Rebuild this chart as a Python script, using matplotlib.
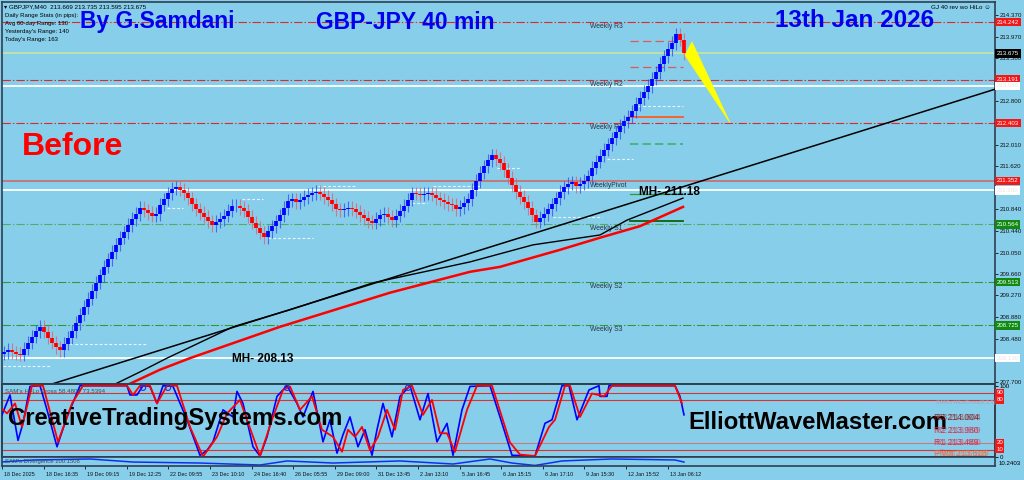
import numpy as np
import matplotlib
matplotlib.use('Agg')
import matplotlib.pyplot as plt
import matplotlib.transforms as mtransforms
from matplotlib.patches import Polygon

plt.rcParams['font.family'] = ['Liberation Sans', 'DejaVu Sans']
plt.rcParams['lines.scale_dashes'] = False

W, H = 1024, 480
BG = '#87CEEB'
FRAME = '#2F3F4F'

# ---- price bars (40 min, close of each bar) ----
closes = [
    208.24, 208.28, 208.24, 208.21, 208.19, 208.30, 208.41, 208.52, 208.62, 208.70,
    208.61, 208.50, 208.41, 208.33, 208.28, 208.39, 208.50, 208.62, 208.77, 208.92,
    209.06, 209.21, 209.35, 209.50, 209.64, 209.79, 209.93, 210.06, 210.19, 210.32,
    210.42, 210.55, 210.66, 210.75, 210.86, 210.82, 210.77, 210.72, 210.75, 210.92,
    211.02, 211.13, 211.21, 211.24, 211.19, 211.13, 211.04, 210.93, 210.84, 210.77,
    210.70, 210.62, 210.55, 210.61, 210.66, 210.72, 210.81, 210.90, 210.90, 210.86,
    210.81, 210.70, 210.59, 210.50, 210.41, 210.33, 210.44, 210.53, 210.62, 210.73,
    210.86, 210.99, 211.02, 210.97, 211.01, 211.06, 211.10, 211.13, 211.15, 211.12,
    211.06, 211.01, 210.93, 210.84, 210.82, 210.84, 210.86, 210.84, 210.79, 210.73,
    210.68, 210.62, 210.59, 210.66, 210.73, 210.75, 210.70, 210.64, 210.72, 210.81,
    210.90, 211.01, 211.13, 211.12, 211.10, 211.12, 211.13, 211.10, 211.04, 211.01,
    210.97, 210.93, 210.92, 210.84, 210.88, 210.95, 211.02, 211.19, 211.35, 211.50,
    211.62, 211.73, 211.82, 211.75, 211.68, 211.55, 211.41, 211.28, 211.15, 211.06,
    210.97, 210.86, 210.73, 210.61, 210.68, 210.75, 210.84, 210.93, 211.04, 211.15,
    211.24, 211.30, 211.33, 211.26, 211.30, 211.35, 211.44, 211.59, 211.70, 211.81,
    211.92, 212.02, 212.13, 212.24, 212.35, 212.44, 212.52, 212.62, 212.75, 212.86,
    212.97, 213.08, 213.21, 213.33, 213.48, 213.62, 213.75, 213.86, 214.02, 213.92,
    213.675,
]
WICK = 0.12

# moving averages (bar position, price)
ma_red_bar = [27.75, 30.75, 39, 46.5, 69, 96.5, 116.5, 124, 139, 149, 159, 169.75]
ma_red_val = [207.55, 207.64, 207.92, 208.13, 208.70, 209.32, 209.70, 209.79, 210.10, 210.32, 210.53, 210.88]
ma_blk_bar = [25.25, 27.25, 34, 40.75, 57.25, 71.5, 92.25, 116.5, 132.25, 149, 155.75, 169.75]
ma_blk_val = [207.55, 207.64, 207.88, 208.13, 208.70, 209.01, 209.50, 209.88, 210.19, 210.37, 210.64, 211.04]
trend_bar = [12, 247.75]
trend_val = [207.66, 213.02]

# weekly pivot levels
weekly_names = ['Weekly R3', 'Weekly R2', 'Weekly R1', 'WeeklyPivot', 'Weekly S1', 'Weekly S2', 'Weekly S3']
weekly_vals = [214.242, 213.191, 212.403, 211.352, 210.564, 209.513, 208.725]
mh_vals = [213.080, 211.180, 208.130]
current_price = 213.675

# previous day high/low dotted segments (bar from, bar to, price)
day_seg_from = [-0.25, 16.5, 40.75, 59.5, 66, 78.5, 100.75, 107.25, 123.25, 137.25, 150.75, 158.5]
day_seg_to = [11.5, 35.75, 44.75, 64.75, 77.25, 87.75, 105.75, 119.5, 129, 149.5, 157.25, 169.75]
day_seg_val = [207.99, 208.39, 210.86, 211.02, 210.32, 211.26, 210.95, 211.26, 211.59, 210.70, 211.75, 212.72]

# daily pivot segments near the last bar
daily_vals = [213.90, 213.42, 212.52, 212.02, 211.11, 210.62]

# yellow projection triangle (bar, price)
tri_bar = [170.25, 172, 181.5]
tri_val = [213.64, 213.88, 212.41]

# SAM's Hi-Lo Cross oscillator
sto_blue_bar = [-1, 1.5, 3.5, 4.75, 6.5, 9, 10.75, 13.25, 15.75, 19, 30.75, 31.5, 33.25, 34.75,
                36.5, 38.25, 39.75, 42.25, 45.75, 49, 50.75, 52.25, 54.75, 57.25, 58.25, 59.75,
                62.25, 64, 65.75, 68.25, 70.75, 73.25, 74.75, 77.25, 79.75, 81.5, 83.25, 84.75,
                86.5, 88.5, 90.25, 92, 93.25, 94.75, 97, 99, 101.5, 104, 106, 108.25, 110.75,
                112.25, 114.5, 116.5, 121.5, 124, 127, 132.75, 135.25, 137, 139.5, 141.25,
                143.25, 146.25, 148.75, 149, 150.75, 151.25, 167.75, 169, 170]
sto_blue_val = [52, 87, 23, 47, 99, 100, 66, 14, 56, 100, 100, 87, 87, 100,
                99, 75, 100, 99, 52, 2, 9, 21, 66, 56, 92, 75,
                14, 1, 28, 85, 100, 75, 56, 92, 21, 52, 5, 31,
                56, 14, 38, 2, 38, 75, 28, 85, 100, 52, 89, 21, 47,
                2, 66, 99, 100, 56, 2, 1, 47, 52, 100, 100,
                52, 94, 100, 85, 85, 100, 100, 85, 59]
sto_red_bar = [-1, 0.75, 2.75, 4.5, 7, 9.75, 13.5, 17, 19.75, 30.75, 32.25, 34, 36.5, 38.25,
               40.75, 43.25, 46.5, 49.75, 53.25, 55.75, 59, 60.75, 64, 67.25, 69.75, 71.5,
               74, 77, 79.5, 82.25, 84.5, 86, 87.75, 89.5, 91.5, 93.5, 95.75, 97.75, 99.75,
               102, 104.75, 107, 109, 110.75, 112.75, 115.75, 118.25, 122, 126.5, 129,
               132.75, 136.25, 137.75, 140.25, 141.5, 144, 147, 150, 152, 167.75, 169.5]
sto_red_val = [70, 61, 75, 42, 100, 100, 21, 75, 100, 100, 87, 100, 100, 75,
               100, 100, 42, 0, 28, 61, 80, 52, 1, 56, 94, 99,
               66, 85, 38, 28, 7, 38, 28, 42, 9, 28, 66, 38, 94,
               100, 59, 80, 33, 33, 7, 66, 100, 100, 20, 3,
               1, 42, 52, 100, 100, 56, 89, 85, 100, 100, 75]
sto_levels = [90, 80, 20, 10]
cross_bars = [34.75, 41, 70.75, 101]

# SAM's Divergence
div_bar = [-1, 7.25, 21.5, 32.25, 49, 64, 70.75, 82.25, 99, 112.25, 121.5, 127, 132.75, 139.5, 152, 167.75, 170]
div_val = [4.4, 6.7, 7.8, 4.4, 3.3, 1.1, 5.6, 3.3, 5.6, 2.2, 7.8, 3.3, 0.6, 5.6, 7.8, 6.7, 4.4]

time_labels = ['18 Dec 2025', '18 Dec 16:35', '19 Dec 09:15', '19 Dec 12:25', '22 Dec 09:55',
               '23 Dec 10:10', '24 Dec 16:40', '26 Dec 05:55', '29 Dec 09:00', '31 Dec 13:45',
               '2 Jan 13:10', '5 Jan 16:45', '6 Jan 15:15', '8 Jan 17:10', '9 Jan 15:30',
               '12 Jan 15:52', '13 Jan 06:12']
price_ticks = [214.370, 213.970, 213.580, 213.190, 212.800, 212.410, 212.010, 211.620, 211.230,
               210.840, 210.440, 210.050, 209.660, 209.270, 208.880, 208.480, 208.090, 207.700]
# scale labels hidden under the coloured price boxes
hidden_ticks = [213.190, 212.410, 211.230, 208.090]

info_lines = ['Daily Range Stats (in pips):', 'Avg 60-day Range: 130',
              "Yesterday's Range: 140", "Today's Range: 163"]


def px_axes(fig, x0, y0, x1, y1):
    return fig.add_axes([x0 / W, 1 - y1 / H, (x1 - x0) / W, (y1 - y0) / H])


def px_text(fig, x, y, s, **kw):
    return fig.text(x / W, 1 - y / H, s, **kw)


fig = plt.figure(figsize=(W / 100, H / 100), dpi=100, facecolor=BG)

XL = (-0.5, 247.75)

# ---------------- main price panel ----------------
ax = px_axes(fig, 2, 2, 995, 384)
ax.set_facecolor(BG)
ax.set_xlim(*XL)
ax.set_ylim(207.66, 214.606)
for sp in ax.spines.values():
    sp.set_color(FRAME)
    sp.set_linewidth(1.2)
ax.set_xticks([])
ax.yaxis.tick_right()
ax.set_yticks(price_ticks)
ax.set_yticklabels(['' if v in hidden_ticks else f'{v:.3f}' for v in price_ticks])
ax.tick_params(axis='y', labelsize=4.4, length=2, width=0.6, pad=1.5, colors='#111111')

dashdot = (0, (6, 1.5, 1, 1.5))
for i, (name, v) in enumerate(zip(weekly_names, weekly_vals)):
    if i < 3:
        ax.axhline(v, color='#E02828', lw=0.8, ls=dashdot, zorder=1)
    elif i == 3:
        ax.axhline(v, color='#C87272', lw=1.3, zorder=1)
    else:
        ax.axhline(v, color=['#4FAF5F', '#2E9A3A', '#2E9A3A'][i - 4], lw=0.8, ls=dashdot, zorder=1)
    ax.text(146.5, v - 0.105, name, fontsize=4.9, color='#2A3340', va='baseline', zorder=2)
for v in mh_vals:
    ax.axhline(v, color='white', lw=1.3, zorder=1)
ax.axhline(current_price, color='#CFE69A', lw=1.1, zorder=1)

for a, b, v in zip(day_seg_from, day_seg_to, day_seg_val):
    ax.plot([a, b], [v, v], color='white', lw=0.8, ls=(0, (2, 1.5)), alpha=0.85, zorder=1)

daily_styles = [('#E05A5A', (0, (6, 3)), 0.9), ('#D85A5A', (0, (6, 3)), 0.9),
                ('#FF5A1E', '-', 1.3), ('#3CB371', (0, (6, 3)), 1.2),
                ('#2E9B2E', '-', 0.9), ('#0A640A', '-', 1.3)]
for v, (c, ls, lw) in zip(daily_vals, daily_styles):
    ax.plot([156.5, 169.75], [v, v], color=c, ls=ls, lw=lw, zorder=1)

ax.plot(trend_bar, trend_val, color='black', lw=1.1, zorder=3)
ax.plot(ma_blk_bar, ma_blk_val, color='black', lw=1.0, zorder=3)
ax.plot(ma_red_bar, ma_red_val, color='#FF0000', lw=1.8, zorder=3)

# candles
xs = np.arange(len(closes))
c_arr = np.array(closes)
o_arr = np.r_[c_arr[0] - 0.03, c_arr[:-1]]
up = c_arr >= o_arr
lo = np.minimum(o_arr, c_arr)
hi = np.maximum(o_arr, c_arr)
ax.vlines(xs[up], lo[up] - WICK, hi[up] + WICK, color='#2A4BFF', lw=0.8, alpha=0.75, zorder=4)
ax.vlines(xs[~up], lo[~up] - WICK, hi[~up] + WICK, color='#E0606E', lw=0.8, alpha=0.75, zorder=4)
ax.vlines(xs[up], lo[up], hi[up], color='#0000FF', lw=2.7, zorder=5)
ax.vlines(xs[~up], lo[~up], hi[~up], color='#FF0000', lw=2.7, zorder=5)

ax.add_patch(Polygon(list(zip(tri_bar, tri_val)), closed=True, facecolor='#FFFF00',
                     edgecolor='#FFFF00', lw=0.5, zorder=6))

# price boxes on the right scale
box_vals = [214.242, 213.675, 213.191, 213.080, 212.403, 211.352, 211.180, 210.564, 209.513, 208.725, 208.130]
box_style = [('#F01818', 'white'), ('black', 'white'), ('#F01818', 'white'), ('white', '#E6E6E6'),
             ('#F01818', 'white'), ('#F01818', 'white'), ('white', '#E6E6E6'), ('#118A11', 'white'),
             ('#118A11', 'white'), ('#118A11', 'white'), ('white', '#E6E6E6')]
btrans = mtransforms.blended_transform_factory(ax.transAxes, ax.transData)
for v, (fc, tc) in zip(box_vals, box_style):
    ax.text(1.0015, v, f'{v:.3f}', transform=btrans, fontsize=4.4, color=tc, ha='left', va='center',
            clip_on=False, zorder=10,
            bbox=dict(boxstyle='square,pad=0.3', facecolor=fc, edgecolor='none'))

# ---------------- oscillator panel ----------------
ax2 = px_axes(fig, 2, 384, 995, 457)
ax2.set_facecolor(BG)
ax2.set_xlim(*XL)
ax2.set_ylim(-0.4, 102.4)
for sp in ax2.spines.values():
    sp.set_color(FRAME)
    sp.set_linewidth(1.4)
ax2.set_xticks([])
ax2.yaxis.tick_right()
ax2.set_yticks([100, 0])
ax2.set_yticklabels(['100', '0'])
ax2.tick_params(axis='y', labelsize=4.4, length=2, width=0.6, pad=1.5)
for lv, c in zip(sto_levels, ['#E03030', '#E03030', '#D07878', '#E03030']):
    ax2.axhline(lv, color=c, lw=0.8, zorder=1)
    ax2.text(1.0015, lv, str(lv), transform=mtransforms.blended_transform_factory(ax2.transAxes, ax2.transData),
             fontsize=4.4, color='white', ha='left', va='center', clip_on=False,
             bbox=dict(boxstyle='square,pad=0.2', facecolor='#F01818', edgecolor='none'))
ax2.plot(sto_blue_bar, sto_blue_val, color='#0000FF', lw=1.2, zorder=3)
ax2.plot(sto_red_bar, sto_red_val, color='#FF0000', lw=1.3, zorder=3)
ax2.scatter(cross_bars, [97] * len(cross_bars), s=14, facecolor='none', edgecolor='#2030E0', lw=0.8, zorder=4)
ax2.text(0.003, 0.93, "SAM's Hi-Lo Cross 58.4804 73.5394", transform=ax2.transAxes,
         fontsize=4.4, color='#3A4A5A', va='top')

# ---------------- divergence panel ----------------
ax3 = px_axes(fig, 2, 457, 995, 466)
ax3.set_facecolor(BG)
ax3.set_xlim(*XL)
ax3.set_ylim(0, 10)
for sp in ax3.spines.values():
    sp.set_color(FRAME)
    sp.set_linewidth(1.2)
ax3.set_yticks([])
ax3.plot(div_bar, div_val, color='#1030F0', lw=1.1)
ax3.text(0.003, 0.5, "SAM's Divergence 100.1508", transform=ax3.transAxes,
         fontsize=4.2, color='#3A4A5A', va='center')
ax3.text(1.004, 0.3, '10.2403', transform=ax3.transAxes, fontsize=4.4, va='center', clip_on=False)

tick_bars = -0.5 + 10.4 * np.arange(len(time_labels))
ax3.set_xticks(tick_bars)
ax3.set_xticklabels(time_labels)
ax3.tick_params(axis='x', labelsize=3.9, length=2.5, width=0.6, pad=1.5, colors='#111111')
shift = mtransforms.ScaledTranslation(2 / 100, 0, fig.dpi_scale_trans)
for lab in ax3.get_xticklabels():
    lab.set_ha('left')
    lab.set_transform(lab.get_transform() + shift)

# ---------------- annotations ----------------
px_text(fig, 4, 8.5, '\u25BE GBPJPY,M40  213.669 213.735 213.595 213.675', fontsize=4.5, va='baseline',
        family=['Liberation Sans', 'DejaVu Sans'])
for k, line in enumerate(info_lines):
    px_text(fig, 5, 17.5 + 7.8 * k, line, fontsize=4.3, va='baseline')
px_text(fig, 931, 9, 'GJ 40 rev wo HiLo \u263A', fontsize=4.5, va='baseline', family=['Liberation Sans', 'DejaVu Sans'])

px_text(fig, 80, 28, 'By G.Samdani', fontsize=16.5, fontweight='bold', color='#0000EE', va='baseline')
px_text(fig, 316, 29, 'GBP-JPY 40 min', fontsize=16.5, fontweight='bold', color='#0000EE', va='baseline')
px_text(fig, 775, 27, '13th Jan 2026', fontsize=17.5, fontweight='bold', color='#0000EE', va='baseline')
px_text(fig, 22, 155, 'Before', fontsize=23, fontweight='bold', color='#FF0000', va='baseline')
px_text(fig, 639, 195, 'MH- 211.18', fontsize=8.5, fontweight='bold', color='black', va='baseline', zorder=8)
px_text(fig, 232, 362, 'MH- 208.13', fontsize=8.5, fontweight='bold', color='black', va='baseline')
px_text(fig, 8, 425, 'CreativeTradingSystems.com', fontsize=17.2, fontweight='bold', color='black', va='baseline')
px_text(fig, 688, 429, 'ElliottWaveMaster.com', fontsize=17.2, fontweight='bold', color='black', va='baseline')

# daily pivot labels (doubled, as on the terminal)
piv_txt = [('R3 214.004', 'R3 213.604', '#8B1010', 420), ('R2 213.980', 'R2 213.599', '#E0203A', 433),
           ('R1 213.489', 'R1 213.400', '#E0203A', 445), ('Pivot 213.618', 'Pivot 213.519', '#FF5A1E', 456)]
for a, b, c, y in piv_txt:
    px_text(fig, 934, y, a, fontsize=6.2, color=c, va='baseline', alpha=0.85)
    px_text(fig, 936, y, b, fontsize=6.2, color=c, va='baseline', alpha=0.55)
px_text(fig, 936, 404, "SAM's HiLoCross(8,3,3)", fontsize=4.0, color='#9AA8B8', va='baseline')

fig.savefig('out.png', dpi=100, facecolor=BG)
